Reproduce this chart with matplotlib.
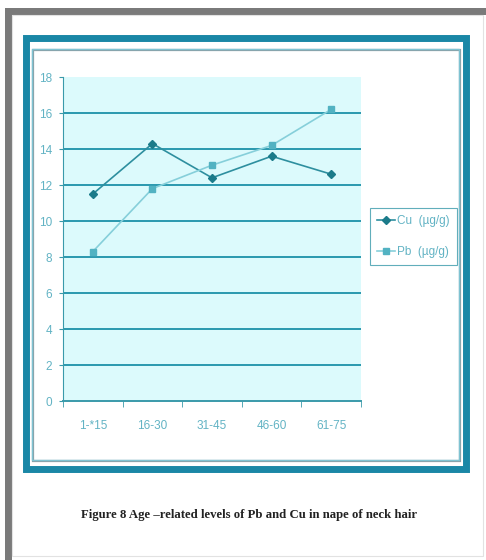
import matplotlib.pyplot as plt
from matplotlib.patches import Rectangle

groups = ['1-*15', '16-30', '31-45', '46-60', '61-75']
cu = [11.5, 14.3, 12.4, 13.6, 12.6]
pb = [8.3, 11.8, 13.1, 14.2, 16.2]
yticks = [0, 2, 4, 6, 8, 10, 12, 14, 16, 18]

W, H = 486, 560
fig = plt.figure(figsize=(W / 100, H / 100), dpi=100)

def box(x0, y0, x1, y1, **kw):
    # rectangle in pixel coords (y from top)
    r = Rectangle((x0 / W, 1 - y1 / H), (x1 - x0) / W, (y1 - y0) / H,
                  transform=fig.transFigure, fill=False, **kw)
    fig.add_artist(r)

# page frame (grey shadow on top and left)
fig.add_artist(Rectangle((5 / W, 0), 7 / W, 1 - 8 / H, transform=fig.transFigure,
                         color='#7a7a7a', lw=0))
fig.add_artist(Rectangle((5 / W, 1 - 15 / H), 1, 7 / H, transform=fig.transFigure,
                         color='#7a7a7a', lw=0))
box(12, 15, 483, 556, edgecolor='#e2e2e2', lw=0.8)

# chart frames
box(26, 38, 466, 469, edgecolor='#1a87a6', lw=5)
box(33, 50, 460, 461, edgecolor='#8a9ea4', lw=1.6)
box(32, 49, 459, 460, edgecolor='#7fc3d2', lw=1.0)

ax = fig.add_axes([63 / W, 1 - 401 / H, 298 / W, 324 / H])
ax.set_facecolor('#dcfafc')
x = range(len(groups))
tick_col = '#62b3c4'
font = ['Liberation Sans', 'DejaVu Sans']
ax.plot(x, cu, color='#2e8f9f', lw=1.2, marker='D', ms=4,
        mfc='#1b7b8a', mec='#1b7b8a', label='Cu  (\u00b5g/g)', zorder=3)
ax.plot(x, pb, color='#86cfda', lw=1.2, marker='s', ms=4,
        mfc='#52b2c2', mec='#52b2c2', label='Pb  (\u00b5g/g)', zorder=3)

ax.set_xlim(-0.5, 4.5)
ax.set_ylim(0, 18)
ax.set_yticks(yticks)
ax.set_xticks(x)
ax.set_xticklabels(groups)
ax.set_xticks([i - 0.5 for i in range(6)], minor=True)
ax.tick_params(axis='x', which='major', length=0, pad=14, labelsize=8.5,
               labelcolor=tick_col)
ax.tick_params(axis='x', which='minor', length=4, color='#3a9aaa', direction='out')
ax.tick_params(axis='y', length=3, color='#3a9aaa', labelsize=8.5,
               labelcolor=tick_col, pad=5)
for lab in ax.get_xticklabels() + ax.get_yticklabels():
    lab.set_family(font)

for v in yticks[1:-1]:
    ax.axhline(v, color='#2a98ae', lw=1.4, zorder=1)
for s in ['top', 'right']:
    ax.spines[s].set_visible(False)
ax.spines['left'].set_color('#3a9aaa')
ax.spines['bottom'].set_color('#3a9aaa')
ax.spines['bottom'].set_linewidth(1.4)

leg = ax.legend(loc='upper left', bbox_to_anchor=(370 / W, 1 - 208 / H),
                bbox_transform=fig.transFigure, frameon=True, fancybox=False,
                handlelength=1.5, handletextpad=0.2, borderpad=0.6,
                borderaxespad=0, labelspacing=1.6, prop={'family': font, 'size': 8.5})
leg.get_frame().set_edgecolor('#3a9aaa')
leg.get_frame().set_linewidth(0.8)
for t in leg.get_texts():
    t.set_color(tick_col)

fig.text(249 / W, 1 - 515 / H,
         'Figure 8 Age \u2013related levels of Pb and Cu in nape of neck hair',
         ha='center', va='center', fontsize=9.2, fontweight='bold',
         family='Liberation Serif', color='#222222')

fig.savefig('out.png', dpi=100)
